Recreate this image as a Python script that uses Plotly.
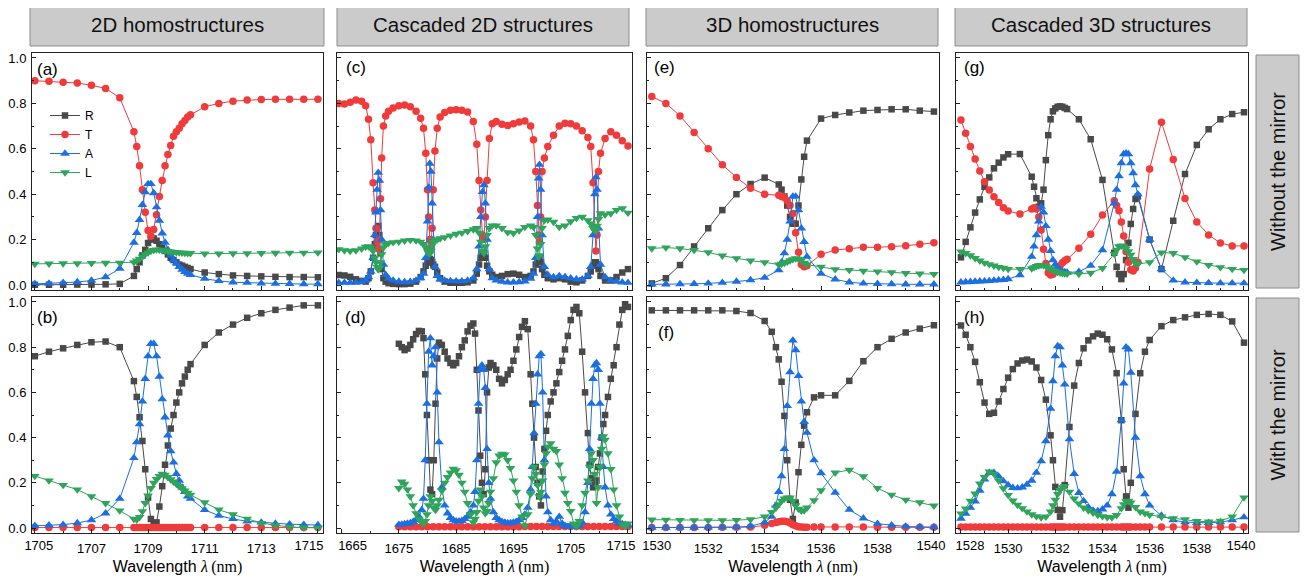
import plotly.graph_objects as go

# ---------------- data ----------------
# (a) / (b): 2D homostructures
x_a = [1705, 1705.5, 1706, 1706.5, 1707, 1707.5, 1708,
       1708.5, 1708.6, 1708.7, 1708.8, 1708.9, 1709.0, 1709.1, 1709.2, 1709.3, 1709.4,
       1709.5, 1709.6, 1709.7, 1709.8, 1709.9, 1710.0, 1710.1, 1710.2, 1710.3, 1710.4, 1710.5,
       1711, 1711.5, 1712, 1712.5, 1713, 1713.5, 1714, 1714.5, 1715]
R_a = [0.001, 0.001, 0.001, 0.002, 0.002, 0.003, 0.005,
       0.04, 0.07, 0.1, 0.13, 0.155, 0.185, 0.2, 0.205, 0.195, 0.18,
       0.165, 0.15, 0.135, 0.12, 0.11, 0.1, 0.09, 0.085, 0.08, 0.075, 0.07,
       0.055, 0.048, 0.042, 0.04, 0.038, 0.036, 0.035, 0.035, 0.034]
T_a = [0.90, 0.898, 0.893, 0.89, 0.88, 0.866, 0.825,
       0.675, 0.61, 0.525, 0.42, 0.32, 0.24, 0.215, 0.245, 0.31, 0.39,
       0.46, 0.525, 0.575, 0.615, 0.655, 0.675, 0.69, 0.71, 0.725, 0.74, 0.75,
       0.785, 0.8, 0.81, 0.815, 0.817, 0.818, 0.818, 0.818, 0.818]
A_a = [0.005, 0.007, 0.01, 0.013, 0.02, 0.035, 0.072,
       0.187, 0.23, 0.287, 0.353, 0.409, 0.445, 0.445, 0.405, 0.343, 0.284,
       0.228, 0.187, 0.155, 0.13, 0.11, 0.095, 0.08, 0.068, 0.058, 0.05, 0.045,
       0.028, 0.018, 0.012, 0.01, 0.007, 0.006, 0.005, 0.004, 0.004]
L_a = [0.093, 0.094, 0.095, 0.095, 0.096, 0.097, 0.098,
       0.1, 0.107, 0.115, 0.125, 0.135, 0.143, 0.15, 0.154, 0.156, 0.155,
       0.153, 0.151, 0.149, 0.147, 0.145, 0.144, 0.143, 0.142, 0.141, 0.14, 0.14,
       0.138, 0.138, 0.139, 0.139, 0.14, 0.141, 0.142, 0.142, 0.143]

R_b = [0.76, 0.78, 0.795, 0.81, 0.822, 0.825, 0.80,
       0.65, 0.58, 0.49, 0.385, 0.26, 0.135, 0.04, 0.015, 0.025, 0.095,
       0.185, 0.28, 0.365, 0.44, 0.5, 0.555, 0.6, 0.64, 0.67, 0.7, 0.725,
       0.81, 0.865, 0.9, 0.93, 0.95, 0.965, 0.975, 0.985, 0.985]
T_b = [0.002, 0.002, 0.002, 0.002, 0.002, 0.002, 0.002,
       0.002, 0.002, 0.002, 0.002, 0.002, 0.002, 0.002, 0.002, 0.002, 0.002,
       0.002, 0.002, 0.002, 0.002, 0.002, 0.002, 0.002, 0.002, 0.002, 0.002, 0.002,
       0.002, 0.002, 0.002, 0.002, 0.002, 0.002, 0.002, 0.002, 0.002]
A_b = [0.01, 0.012, 0.015, 0.022, 0.035, 0.065, 0.13,
       0.31, 0.38, 0.46, 0.56, 0.66, 0.76, 0.815, 0.815, 0.76, 0.67,
       0.57, 0.49, 0.41, 0.34, 0.29, 0.24, 0.21, 0.18, 0.16, 0.14, 0.13,
       0.08, 0.055, 0.04, 0.03, 0.025, 0.02, 0.017, 0.015, 0.013]
L_b = [0.23, 0.21, 0.19, 0.17, 0.14, 0.11, 0.077,
       0.04, 0.037, 0.048, 0.074, 0.11, 0.143, 0.176, 0.2, 0.216, 0.23,
       0.24, 0.235, 0.225, 0.215, 0.205, 0.195, 0.185, 0.175, 0.165, 0.155, 0.147,
       0.113, 0.081, 0.06, 0.04, 0.022, 0.012, 0.005, 0.002, 0.001]

# (c): cascaded 2D, without mirror
x_c = [1664.5, 1665.5, 1666.5, 1667.5, 1668.5, 1669.2, 1669.7, 1670.1, 1670.5, 1670.8,
       1671.0, 1671.2, 1671.4, 1671.6, 1671.8, 1672.0, 1672.3, 1672.7, 1673.2, 1674.0,
       1675.0, 1676.0, 1677.0, 1678.0, 1678.8, 1679.3, 1679.7, 1680.0, 1680.2, 1680.4,
       1680.6, 1680.8, 1681.0, 1681.3, 1681.7, 1682.2, 1683.0, 1684.0, 1685.0, 1686.0,
       1687.0, 1688.0, 1688.6, 1689.0, 1689.3, 1689.6, 1689.85, 1690.1, 1690.4, 1690.8,
       1691.3, 1692.0, 1693.0, 1694.0, 1695.0, 1696.0, 1697.0, 1698.0, 1698.5, 1698.9,
       1699.2, 1699.4, 1699.55, 1699.75, 1700.0, 1700.4, 1701.0, 1702.0, 1703.0, 1704.0,
       1705.0, 1706.0, 1707.0, 1708.0, 1708.5, 1708.9, 1709.2, 1709.4, 1709.6, 1709.85,
       1710.2, 1711.0, 1712.0, 1713.0, 1714.0, 1715.0]
T_c = [0.80, 0.797, 0.805, 0.815, 0.81, 0.79, 0.73, 0.64, 0.45, 0.33,
       0.25, 0.19, 0.16, 0.2, 0.38, 0.56, 0.7, 0.745, 0.765, 0.78,
       0.79, 0.793, 0.785, 0.765, 0.735, 0.69, 0.58, 0.42, 0.3, 0.2,
       0.17, 0.25, 0.42, 0.59, 0.69, 0.74, 0.76, 0.77, 0.772, 0.77,
       0.762, 0.72, 0.62, 0.46, 0.33, 0.22, 0.2, 0.3, 0.46, 0.645,
       0.71, 0.72, 0.708, 0.703, 0.71, 0.718, 0.722, 0.7, 0.64, 0.5,
       0.35, 0.22, 0.19, 0.3, 0.5, 0.56, 0.61, 0.66, 0.7, 0.713,
       0.71, 0.7, 0.68, 0.65, 0.61, 0.45, 0.25, 0.15, 0.22, 0.5,
       0.58, 0.645, 0.675, 0.66, 0.635, 0.612]
R_c = [0.044, 0.042, 0.036, 0.025, 0.018, 0.015, 0.03, 0.06, 0.12, 0.18,
       0.22, 0.25, 0.26, 0.22, 0.14, 0.07, 0.03, 0.015, 0.008, 0.005,
       0.004, 0.004, 0.006, 0.015, 0.035, 0.06, 0.085, 0.1, 0.11, 0.115,
       0.11, 0.1, 0.09, 0.08, 0.055, 0.03, 0.015, 0.01, 0.01, 0.01,
       0.012, 0.02, 0.05, 0.09, 0.12, 0.14, 0.14, 0.12, 0.085, 0.06,
       0.045, 0.035, 0.04, 0.048, 0.05, 0.045, 0.035, 0.04, 0.06, 0.09,
       0.11, 0.12, 0.12, 0.1, 0.07, 0.045, 0.03, 0.025, 0.03, 0.025,
       0.015, 0.012, 0.02, 0.04, 0.06, 0.085, 0.1, 0.1, 0.09, 0.07,
       0.04, 0.02, 0.02, 0.035, 0.055, 0.07]
A_c = [0.01, 0.01, 0.01, 0.011, 0.014, 0.02, 0.035, 0.06, 0.12, 0.22,
       0.32, 0.42, 0.495, 0.46, 0.33, 0.2, 0.09, 0.045, 0.028, 0.02,
       0.015, 0.013, 0.014, 0.02, 0.03, 0.05, 0.12, 0.28, 0.43, 0.535,
       0.5, 0.36, 0.2, 0.08, 0.04, 0.025, 0.02, 0.018, 0.017, 0.017,
       0.02, 0.03, 0.07, 0.17, 0.3, 0.41, 0.44, 0.36, 0.2, 0.07,
       0.03, 0.02, 0.015, 0.012, 0.012, 0.013, 0.016, 0.028, 0.05, 0.12,
       0.3, 0.47, 0.53, 0.42, 0.22, 0.08, 0.045, 0.035, 0.04, 0.035,
       0.03, 0.025, 0.025, 0.04, 0.08, 0.22, 0.4, 0.475, 0.42, 0.25,
       0.09, 0.035, 0.02, 0.015, 0.012, 0.01]
L_c = [0.157, 0.152, 0.15, 0.152, 0.16, 0.168, 0.17, 0.165, 0.15, 0.12,
       0.1, 0.08, 0.068, 0.075, 0.1, 0.135, 0.165, 0.18, 0.185, 0.188,
       0.19, 0.195, 0.198, 0.196, 0.19, 0.18, 0.165, 0.15, 0.14, 0.138,
       0.15, 0.175, 0.19, 0.198, 0.2, 0.205, 0.21, 0.218, 0.225, 0.23,
       0.237, 0.245, 0.25, 0.23, 0.19, 0.15, 0.14, 0.17, 0.22, 0.25,
       0.262, 0.262, 0.25, 0.232, 0.228, 0.24, 0.255, 0.262, 0.255, 0.22,
       0.16, 0.125, 0.13, 0.18, 0.25, 0.285, 0.288, 0.278, 0.255, 0.262,
       0.28, 0.295, 0.3, 0.285, 0.27, 0.25, 0.24, 0.242, 0.26, 0.29,
       0.315, 0.31, 0.315, 0.33, 0.338, 0.318]

# (d): cascaded 2D, with mirror
x_d = [1675, 1675.5, 1676, 1676.5, 1677, 1677.5, 1678, 1678.5, 1679, 1679.3,
       1679.6, 1679.9, 1680.2, 1680.5, 1680.8, 1681.1, 1681.4, 1681.7, 1682, 1682.5,
       1683, 1683.5, 1684, 1684.5, 1685, 1685.5, 1686, 1686.5, 1687, 1687.5,
       1688, 1688.3, 1688.6, 1688.9, 1689.2, 1689.5, 1689.8, 1690.1, 1690.4, 1690.7,
       1691, 1691.5, 1692, 1692.5, 1693, 1693.5, 1694, 1694.5, 1695, 1695.5,
       1696, 1696.5, 1697, 1697.5, 1698, 1698.3, 1698.6, 1698.9, 1699.2, 1699.5,
       1699.8, 1700.1, 1700.4, 1700.7, 1701, 1701.5, 1702, 1702.5, 1703, 1703.5,
       1704, 1704.5, 1705, 1705.5, 1706, 1706.5, 1707, 1707.5, 1708, 1708.3,
       1708.6, 1708.9, 1709.2, 1709.5, 1709.8, 1710.1, 1710.4, 1710.7, 1711, 1711.5,
       1712, 1712.5, 1713, 1713.5, 1714, 1714.5, 1715]
R_d = [0.815, 0.80, 0.787, 0.794, 0.81, 0.835, 0.858, 0.872, 0.87, 0.84,
       0.68, 0.5, 0.3, 0.17, 0.15, 0.3, 0.55, 0.75, 0.82, 0.81,
       0.78, 0.75, 0.73, 0.72, 0.73, 0.76, 0.8, 0.83, 0.87, 0.895,
       0.905, 0.86, 0.7, 0.52, 0.32, 0.2, 0.15, 0.26, 0.6, 0.71,
       0.73, 0.72, 0.7, 0.66, 0.64, 0.655, 0.68, 0.7, 0.74, 0.79,
       0.845, 0.89, 0.915, 0.88, 0.68, 0.55, 0.4, 0.27, 0.2, 0.14,
       0.1, 0.25, 0.35, 0.43, 0.5, 0.56, 0.6, 0.64, 0.69, 0.74,
       0.79, 0.85, 0.92, 0.965, 0.978, 0.95, 0.78, 0.6, 0.42, 0.28,
       0.22, 0.18, 0.19, 0.21, 0.27, 0.33, 0.4, 0.46, 0.5, 0.58,
       0.66, 0.72, 0.8, 0.9, 0.965, 0.99, 0.978]
A_d = [0.015, 0.016, 0.018, 0.02, 0.022, 0.028, 0.035, 0.05, 0.08, 0.13,
       0.3, 0.55, 0.78, 0.84, 0.72, 0.76, 0.8, 0.6, 0.38, 0.18,
       0.1, 0.065, 0.045, 0.035, 0.03, 0.03, 0.032, 0.04, 0.05, 0.07,
       0.1, 0.16, 0.3, 0.55, 0.7, 0.72, 0.7, 0.62, 0.35, 0.2,
       0.13, 0.07, 0.045, 0.035, 0.028, 0.025, 0.022, 0.022, 0.025, 0.028,
       0.035, 0.045, 0.06, 0.09, 0.17, 0.27, 0.42, 0.55, 0.68, 0.76,
       0.77, 0.6, 0.3, 0.14, 0.07, 0.035, 0.02, 0.03, 0.05, 0.02,
       0.01, 0.006, 0.005, 0.005, 0.006, 0.01, 0.025, 0.07, 0.2, 0.35,
       0.55, 0.66, 0.72, 0.73, 0.7, 0.55, 0.4, 0.27, 0.18, 0.1,
       0.06, 0.04, 0.03, 0.022, 0.018, 0.015, 0.012]
L_d = [0.176, 0.205, 0.195, 0.17, 0.14, 0.1, 0.065, 0.04, 0.025, 0.02,
       0.03, 0.06, 0.1, 0.14, 0.12, 0.09, 0.08, 0.1, 0.125, 0.165,
       0.2, 0.225, 0.245, 0.262, 0.255, 0.235, 0.2, 0.16, 0.11, 0.06,
       0.025, 0.04, 0.07, 0.12, 0.17, 0.14, 0.09, 0.065, 0.075, 0.11,
       0.16, 0.22, 0.29, 0.32, 0.328, 0.325, 0.3, 0.265, 0.21, 0.16,
       0.1, 0.05, 0.01, 0.06, 0.15, 0.22, 0.27, 0.24, 0.19, 0.14,
       0.16, 0.21, 0.28, 0.33, 0.36, 0.375, 0.35, 0.34, 0.28, 0.22,
       0.155, 0.11, 0.075, 0.02, 0.008, 0.03, 0.1, 0.155, 0.21, 0.27,
       0.33, 0.3, 0.24, 0.11, 0.18, 0.27, 0.35, 0.405, 0.39, 0.33,
       0.26, 0.17, 0.1, 0.05, 0.015, 0.008, 0.02]
x_dT = [1675, 1676, 1677, 1678, 1679, 1680, 1681, 1682, 1683, 1684,
        1685, 1686, 1687, 1688, 1689, 1690, 1691, 1692, 1693, 1694,
        1695, 1696, 1697, 1698, 1699, 1700, 1701, 1702, 1703, 1704,
        1705, 1706, 1707, 1708, 1709, 1710, 1711, 1712, 1713, 1714, 1715]
T_d = [0.006, 0.006, 0.006, 0.006, 0.006, 0.006, 0.006, 0.006, 0.006, 0.006,
       0.006, 0.006, 0.006, 0.006, 0.006, 0.006, 0.006, 0.006, 0.006, 0.006,
       0.006, 0.006, 0.007, 0.007, 0.007, 0.007, 0.007, 0.007, 0.007, 0.007,
       0.007, 0.007, 0.007, 0.007, 0.007, 0.007, 0.007, 0.007, 0.007, 0.007, 0.007]

# (e) / (f): 3D homostructures
x_e = [1530, 1530.5, 1531, 1531.5, 1532, 1532.5, 1533, 1533.5, 1534,
       1534.5, 1534.6, 1534.7, 1534.8, 1534.9, 1535.0, 1535.1, 1535.2, 1535.3, 1535.4, 1535.5,
       1536, 1536.5, 1537, 1537.5, 1538, 1538.5, 1539, 1539.5, 1540]
R_e = [0.007, 0.03, 0.088, 0.17, 0.25, 0.33, 0.4, 0.445, 0.473,
       0.443, 0.42, 0.39, 0.35, 0.3, 0.27, 0.27, 0.35, 0.465, 0.565, 0.636,
       0.733, 0.749, 0.76, 0.768, 0.771, 0.774, 0.774, 0.768, 0.764]
T_e = [0.83, 0.80, 0.745, 0.672, 0.6, 0.53, 0.474, 0.426, 0.40,
       0.395, 0.39, 0.385, 0.37, 0.35, 0.315, 0.23, 0.144, 0.09, 0.08, 0.085,
       0.135, 0.154, 0.16, 0.166, 0.166, 0.169, 0.173, 0.179, 0.186]
A_e = [0.003, 0.003, 0.004, 0.005, 0.007, 0.01, 0.015, 0.022, 0.032,
       0.066, 0.1, 0.14, 0.2, 0.28, 0.39, 0.39, 0.33, 0.25, 0.19, 0.125,
       0.05, 0.025, 0.012, 0.007, 0.005, 0.004, 0.003, 0.003, 0.003]
L_e = [0.161, 0.165, 0.161, 0.154, 0.144, 0.129, 0.117, 0.107, 0.1,
       0.09, 0.093, 0.097, 0.102, 0.108, 0.113, 0.117, 0.115, 0.108, 0.098, 0.09,
       0.08, 0.069, 0.066, 0.062, 0.059, 0.056, 0.052, 0.05, 0.048]

x_f = [1530, 1530.5, 1531, 1531.5, 1532, 1532.5, 1533, 1533.5, 1534, 1534.25, 1534.4,
       1534.5, 1534.6, 1534.7, 1534.8, 1534.9, 1535.0, 1535.1, 1535.2, 1535.3, 1535.4, 1535.5,
       1535.75, 1536, 1536.5, 1537, 1537.5, 1538, 1538.5, 1539, 1539.5, 1540]
R_f = [0.963, 0.963, 0.963, 0.963, 0.963, 0.963, 0.96, 0.951, 0.916, 0.868, 0.8,
       0.746, 0.647, 0.496, 0.30, 0.125, 0.04, 0.113, 0.247, 0.368, 0.453, 0.512,
       0.578, 0.587, 0.587, 0.651, 0.738, 0.8, 0.837, 0.865, 0.882, 0.897]
T_f = [0.002, 0.002, 0.002, 0.002, 0.002, 0.003, 0.003, 0.004, 0.012, 0.02, 0.025,
       0.028, 0.03, 0.03, 0.028, 0.022, 0.015, 0.01, 0.006, 0.004, 0.003, 0.003,
       0.004, 0.005, 0.005, 0.005, 0.004, 0.003, 0.003, 0.003, 0.003, 0.003]
A_f = [0.002, 0.002, 0.002, 0.002, 0.003, 0.003, 0.004, 0.008, 0.025, 0.05, 0.1,
       0.16, 0.23, 0.35, 0.54, 0.69, 0.83, 0.787, 0.673, 0.56, 0.47, 0.422,
       0.3, 0.243, 0.157, 0.081, 0.043, 0.019, 0.012, 0.007, 0.005, 0.004]
L_f = [0.037, 0.036, 0.035, 0.034, 0.034, 0.034, 0.035, 0.038, 0.05, 0.07, 0.09,
       0.105, 0.12, 0.13, 0.135, 0.135, 0.12, 0.1, 0.085, 0.076, 0.078, 0.09,
       0.122, 0.166, 0.245, 0.257, 0.228, 0.176, 0.147, 0.125, 0.113, 0.099]

# (g) / (h): cascaded 3D structures
x_g = [1528.0, 1528.2, 1528.4, 1528.6, 1528.8, 1529.0, 1529.2, 1529.4, 1529.6, 1529.8,
       1530.0, 1530.5, 1531.0, 1531.1, 1531.2, 1531.3, 1531.4, 1531.5, 1531.6, 1531.7,
       1531.8, 1531.9, 1532.0, 1532.1, 1532.2, 1532.3, 1532.4, 1532.5, 1533.0, 1533.5,
       1534.0, 1534.5, 1534.6, 1534.7, 1534.8, 1534.9, 1535.0, 1535.1, 1535.2, 1535.3,
       1535.4, 1535.5, 1536.0, 1536.5, 1537.0, 1537.5, 1538.0, 1538.5, 1539.0, 1539.5,
       1540.0]
R_g = [0.122, 0.19, 0.254, 0.319, 0.377, 0.433, 0.474, 0.514, 0.539, 0.562,
       0.576, 0.577, 0.477, 0.433, 0.382, 0.345, 0.36, 0.42, 0.55, 0.66,
       0.73, 0.765, 0.778, 0.785, 0.787, 0.785, 0.78, 0.775, 0.73, 0.642,
       0.463, 0.142, 0.08, 0.048, 0.026, 0.048, 0.11, 0.186, 0.269, 0.335,
       0.379, 0.39, 0.2, 0.07, 0.283, 0.489, 0.617, 0.686, 0.73, 0.753,
       0.761]
T_g = [0.727, 0.668, 0.61, 0.555, 0.502, 0.455, 0.418, 0.389, 0.363, 0.34,
       0.326, 0.313, 0.335, 0.34, 0.335, 0.3, 0.242, 0.157, 0.095, 0.054,
       0.044, 0.047, 0.058, 0.07, 0.085, 0.098, 0.107, 0.113, 0.162, 0.224,
       0.308, 0.371, 0.35, 0.327, 0.278, 0.216, 0.147, 0.1, 0.067, 0.062,
       0.075, 0.1, 0.511, 0.717, 0.553, 0.381, 0.278, 0.22, 0.185, 0.172,
       0.172]
A_g = [0.012, 0.013, 0.014, 0.015, 0.016, 0.017, 0.018, 0.02, 0.021, 0.023,
       0.026, 0.044, 0.125, 0.17, 0.22, 0.28, 0.345, 0.32, 0.26, 0.2,
       0.15, 0.11, 0.09, 0.075, 0.065, 0.06, 0.057, 0.055, 0.058, 0.085,
       0.154, 0.36, 0.42, 0.48, 0.537, 0.577, 0.58, 0.577, 0.537, 0.493,
       0.44, 0.4, 0.2, 0.07, 0.02, 0.012, 0.01, 0.009, 0.008, 0.008,
       0.008]
L_g = [0.147, 0.14, 0.13, 0.118, 0.107, 0.098, 0.091, 0.085, 0.079, 0.075,
       0.07, 0.07, 0.073, 0.078, 0.083, 0.086, 0.088, 0.087, 0.083, 0.077,
       0.07, 0.065, 0.06, 0.057, 0.054, 0.052, 0.051, 0.05, 0.049, 0.053,
       0.074, 0.137, 0.155, 0.17, 0.173, 0.17, 0.16, 0.148, 0.133, 0.114,
       0.096, 0.092, 0.1, 0.143, 0.14, 0.122, 0.103, 0.088, 0.078, 0.07,
       0.066]

x_h = [1528.0, 1528.2, 1528.4, 1528.6, 1528.8, 1529.0, 1529.2, 1529.4, 1529.6, 1529.8,
       1530.0, 1530.2, 1530.4, 1530.6, 1530.8, 1531.0, 1531.2, 1531.4, 1531.6, 1531.8,
       1531.9, 1532.0, 1532.1, 1532.2, 1532.3, 1532.4, 1532.6, 1532.8, 1533.0, 1533.2,
       1533.4, 1533.6, 1533.8, 1534.0, 1534.2, 1534.4, 1534.6, 1534.8, 1534.9, 1535.0,
       1535.1, 1535.2, 1535.4, 1535.6, 1535.8, 1536.0, 1536.5, 1537.0, 1537.5, 1538.0,
       1538.5, 1539.0, 1539.5, 1540.0]
R_h = [0.896, 0.855, 0.80, 0.735, 0.645, 0.555, 0.505, 0.51, 0.56, 0.615,
       0.665, 0.703, 0.728, 0.741, 0.745, 0.737, 0.71, 0.655, 0.568, 0.41,
       0.3, 0.182, 0.08, 0.05, 0.079, 0.19, 0.447, 0.63, 0.73, 0.795,
       0.83, 0.848, 0.86, 0.855, 0.835, 0.79, 0.685, 0.477, 0.26, 0.14,
       0.09, 0.2, 0.505, 0.685, 0.78, 0.832, 0.893, 0.92, 0.932, 0.943,
       0.947, 0.943, 0.914, 0.82]
T_h = [0.004, 0.004, 0.004, 0.004, 0.004, 0.004, 0.004, 0.004, 0.004, 0.004,
       0.004, 0.004, 0.004, 0.004, 0.004, 0.004, 0.004, 0.004, 0.004, 0.004,
       0.004, 0.004, 0.004, 0.004, 0.004, 0.004, 0.004, 0.004, 0.004, 0.004,
       0.004, 0.004, 0.004, 0.004, 0.004, 0.004, 0.004, 0.004, 0.004, 0.004,
       0.004, 0.004, 0.004, 0.004, 0.004, 0.004, 0.004, 0.004, 0.004, 0.004,
       0.004, 0.004, 0.004, 0.004]
A_h = [0.042, 0.064, 0.09, 0.118, 0.166, 0.215, 0.244, 0.245, 0.228, 0.207,
       0.19, 0.178, 0.176, 0.18, 0.192, 0.21, 0.245, 0.296, 0.385, 0.528,
       0.65, 0.76, 0.805, 0.8, 0.72, 0.635, 0.393, 0.24, 0.156, 0.12,
       0.092, 0.078, 0.075, 0.083, 0.1, 0.15, 0.25, 0.477, 0.64, 0.8,
       0.79, 0.688, 0.4, 0.23, 0.15, 0.1, 0.055, 0.035, 0.026, 0.023,
       0.023, 0.026, 0.035, 0.048]
L_h = [0.064, 0.086, 0.12, 0.152, 0.196, 0.225, 0.25, 0.24, 0.21, 0.175,
       0.146, 0.121, 0.102, 0.087, 0.073, 0.06, 0.052, 0.047, 0.05, 0.073,
       0.1, 0.125, 0.15, 0.168, 0.18, 0.185, 0.16, 0.13, 0.108, 0.09,
       0.078, 0.068, 0.058, 0.052, 0.048, 0.047, 0.057, 0.087, 0.105, 0.118,
       0.12, 0.112, 0.092, 0.072, 0.065, 0.058, 0.05, 0.043, 0.038, 0.03,
       0.028, 0.032, 0.05, 0.135]

headers = ["2D homostructures", "Cascaded 2D structures", "3D homostructures", "Cascaded 3D structures"]
row_labels = ["Without the mirror", "With the mirror"]
panel_letters = ["(a)", "(b)", "(c)", "(d)", "(e)", "(f)", "(g)", "(h)"]
series_names = ["R", "T", "A", "L"]

x_major = [[1705, 1707, 1709, 1711, 1713, 1715],
           [1665, 1675, 1685, 1695, 1705, 1715],
           [1530, 1532, 1534, 1536, 1538, 1540],
           [1528, 1530, 1532, 1534, 1536, 1538, 1540]]
x_minor = [[1706, 1708, 1710, 1712, 1714],
           [1670, 1680, 1690, 1700, 1710],
           [1531, 1533, 1535, 1537, 1539],
           [1529, 1531, 1533, 1535, 1537, 1539]]
y_major = [0, 0.2, 0.4, 0.6, 0.8, 1.0]
y_labels = ["0.0", "0.2", "0.4", "0.6", "0.8", "1.0"]
y_minor = [0.1, 0.3, 0.5, 0.7, 0.9]

# panels: (column, row, {series: (x, y)})
panels = [
    (0, 0, {"R": (x_a, R_a), "T": (x_a, T_a), "A": (x_a, A_a), "L": (x_a, L_a)}),
    (0, 1, {"R": (x_a, R_b), "T": (x_a, T_b), "A": (x_a, A_b), "L": (x_a, L_b)}),
    (1, 0, {"R": (x_c, R_c), "T": (x_c, T_c), "A": (x_c, A_c), "L": (x_c, L_c)}),
    (1, 1, {"R": (x_d, R_d), "T": (x_dT, T_d), "A": (x_d, A_d), "L": (x_d, L_d)}),
    (2, 0, {"R": (x_e, R_e), "T": (x_e, T_e), "A": (x_e, A_e), "L": (x_e, L_e)}),
    (2, 1, {"R": (x_f, R_f), "T": (x_f, T_f), "A": (x_f, A_f), "L": (x_f, L_f)}),
    (3, 0, {"R": (x_g, R_g), "T": (x_g, T_g), "A": (x_g, A_g), "L": (x_g, L_g)}),
    (3, 1, {"R": (x_h, R_h), "T": (x_h, T_h), "A": (x_h, A_h), "L": (x_h, L_h)}),
]

for _, _, d in panels:
    for k, (xx, yy) in d.items():
        assert len(xx) == len(yy), (k, len(xx), len(yy))

# ---------------- style ----------------
# the page body adds an 8 px margin, so the figure is laid out in page pixels minus 8
OFF = 8
W, H = 1315 - OFF, 585 - OFF


def px(xp):
    return (xp - OFF) / W


def py(yp):
    return 1 - (yp - OFF) / H


FONT = "Liberation Sans, Arial, Helvetica, sans-serif"
colors = {"R": "#494949", "T": "#ef3b3b", "A": "#1b6fe0", "L": "#2fa45b"}
symbols = {"R": "square", "T": "circle", "A": "triangle-up", "L": "triangle-down"}
msize = {"R": 6.5, "T": 7.5, "A": 8.5, "L": 8.5}

col_px = [(32, 323), (337, 632), (647, 939), (956, 1248)]
row_px = [(53, 290), (297, 533)]
xranges = [[1704.9, 1715.18], [1664.2, 1715.7], [1529.83, 1540.18], [1527.79, 1540.17]]
edge_shift = [(4, -9), (11, -7), (5, -3), (9, -3)]
label_pos = [(35, 58), (35, 306), (344, 56), (343, 306), (652, 56), (656, 321), (962, 56), (962, 306)]
tickfont = dict(size=13, color="#000", family=FONT)

fig = go.Figure()
layout = {}
annotations = []
shapes = []

extra = 9
for i, (col, row, data) in enumerate(panels):
    n = i + 1
    xa_name = "x" if n == 1 else f"x{n}"
    ya_name = "y" if n == 1 else f"y{n}"
    for s in series_names:
        xx, yy = data[s]
        fig.add_trace(go.Scatter(
            x=xx, y=yy, mode="lines+markers", name=s,
            xaxis=xa_name, yaxis=ya_name,
            line=dict(color=colors[s], width=1),
            marker=dict(symbol=symbols[s], size=msize[s], color=colors[s], line=dict(width=0)),
            showlegend=(n == 1),
        ))
    c0, c1 = col_px[col]
    r0, r1 = row_px[row]
    bottom = (row == 1)
    xkey = "xaxis" if n == 1 else f"xaxis{n}"
    ykey = "yaxis" if n == 1 else f"yaxis{n}"
    majors = x_major[col]
    layout[xkey] = dict(
        domain=[px(c0), px(c1)], range=xranges[col], anchor=ya_name, automargin=False,
        showline=True, mirror=True, linecolor="#222", linewidth=1,
        ticks="inside", ticklen=4, tickwidth=1, tickcolor="#222",
        tickmode="array", tickvals=majors,
        ticktext=([""] + [str(v) for v in majors[1:-1]] + [""]) if bottom else None,
        showticklabels=bottom, ticklabelstandoff=3, tickfont=tickfont,
        minor=dict(ticks="inside", ticklen=2, tickwidth=1, tickcolor="#222",
                   tickmode="array", tickvals=x_minor[col], showgrid=False),
        showgrid=False, zeroline=False,
        title=dict(
            text=("Wavelength <span style='font-family:Liberation Serif'><i>λ</i>\u2009(nm)</span>" if bottom else ""),
            font=dict(size=16, color="#000", family=FONT), standoff=6),
    )
    if bottom:
        for v, sh in ((majors[0], edge_shift[col][0]), (majors[-1], edge_shift[col][1])):
            layout[f"xaxis{extra}"] = dict(
                domain=[px(c0), px(c1)], range=xranges[col], anchor=ya_name,
                overlaying=xa_name, side="bottom", automargin=False,
                showline=False, ticks="", showgrid=False, zeroline=False,
                tickmode="array", tickvals=[v], ticktext=[str(v)],
                ticklabelstandoff=3, ticklabelshift=sh, tickfont=tickfont,
            )
            fig.add_trace(go.Scatter(x=[v], y=[None], mode="markers", xaxis=f"x{extra}",
                                     yaxis=ya_name, showlegend=False, hoverinfo="skip"))
            extra += 1
    layout[ykey] = dict(
        domain=[py(r1), py(r0)], range=[-0.022, 1.022], anchor=xa_name, automargin=False,
        showline=True, mirror=True, linecolor="#222", linewidth=1,
        ticks="inside", ticklen=4, tickwidth=1, tickcolor="#222",
        tickmode="array", tickvals=y_major, ticktext=y_labels,
        showticklabels=(col == 0), ticklabelstandoff=2, tickfont=tickfont,
        minor=dict(ticks="inside", ticklen=2, tickwidth=1, tickcolor="#222",
                   tickmode="array", tickvals=y_minor, showgrid=False),
        showgrid=False, zeroline=False,
    )
    lx, ly = label_pos[i]
    annotations.append(dict(
        text=panel_letters[i], xref="paper", yref="paper",
        x=px(lx), y=py(ly), xanchor="left", yanchor="top",
        showarrow=False, font=dict(size=17, color="#000", family=FONT)))

# header boxes
head_px = [(30, 324), (337, 629), (646, 938), (955, 1247)]
for (h0, h1), txt in zip(head_px, headers):
    shapes.append(dict(type="rect", xref="paper", yref="paper",
                       x0=px(h0), x1=px(h1), y0=py(46), y1=py(3),
                       fillcolor="#cbcbcb", line=dict(color="#8c8c8c", width=1), layer="below"))
    annotations.append(dict(text=txt, xref="paper", yref="paper",
                            x=px((h0 + h1) / 2), y=py(24.5), xanchor="center", yanchor="middle",
                            showarrow=False, font=dict(size=20.5, color="#111", family=FONT)))

# right side boxes
side_px = [(55, 288), (298, 532)]
for (s0, s1), txt in zip(side_px, row_labels):
    shapes.append(dict(type="rect", xref="paper", yref="paper",
                       x0=px(1256), x1=px(1299), y0=py(s1), y1=py(s0),
                       fillcolor="#cbcbcb", line=dict(color="#8c8c8c", width=1), layer="below"))
    annotations.append(dict(text=txt, xref="paper", yref="paper",
                            x=px(1277.5), y=py((s0 + s1) / 2), xanchor="center", yanchor="middle",
                            textangle=-90, showarrow=False,
                            font=dict(size=20, color="#111", family=FONT)))

layout.update(dict(
    width=W, height=H,
    margin=dict(l=0, r=0, t=0, b=0, autoexpand=False),
    paper_bgcolor="white", plot_bgcolor="white",
    font=dict(family=FONT, size=13, color="#000"),
    showlegend=True,
    legend=dict(x=px(45), y=py(101), xanchor="left", yanchor="top",
                bgcolor="rgba(0,0,0,0)", borderwidth=0,
                font=dict(size=12, color="#000", family=FONT),
                tracegroupgap=0, itemwidth=30),
    annotations=annotations, shapes=shapes,
))
fig.update_layout(**layout)
fig.write_html("out.html")
